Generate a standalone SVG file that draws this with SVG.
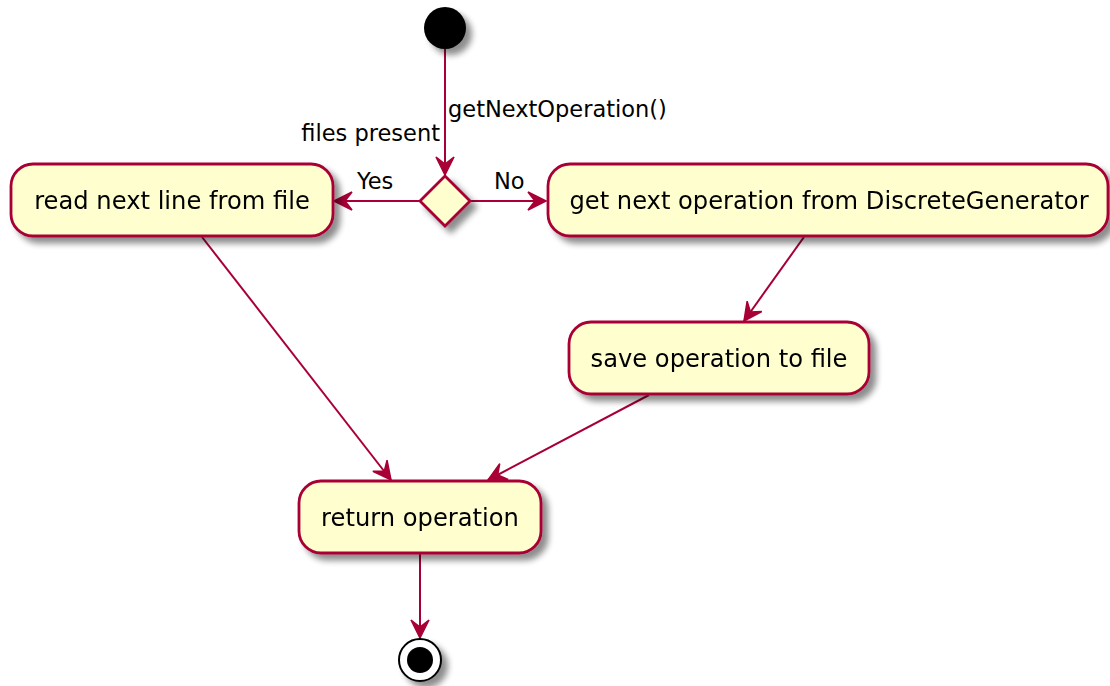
<svg xmlns="http://www.w3.org/2000/svg" width="1110" height="686" viewBox="0 0 1110 686">
<defs>
<filter id="sh" x="-20%" y="-20%" width="150%" height="170%">
<feGaussianBlur in="SourceAlpha" stdDeviation="3"/>
<feOffset dx="6" dy="6" result="b"/>
<feComponentTransfer><feFuncA type="linear" slope="0.45"/></feComponentTransfer>
<feMerge><feMergeNode/><feMergeNode in="SourceGraphic"/></feMerge>
</filter>
<marker id="ah" markerUnits="userSpaceOnUse" viewBox="-20 -10 22 20" refX="0" refY="0" markerWidth="22" markerHeight="20" orient="auto">
<path d="M0,0 L-18,-9 L-11,0 L-18,9 Z" fill="#A80036" stroke="#A80036" stroke-width="1.5" stroke-linejoin="miter"/>
</marker>
<style>
.act{fill:#FEFECE;stroke:#A80036;stroke-width:2.8}
.t{font-family:"DejaVu Sans","Liberation Sans",sans-serif;font-size:24.2px;fill:#000;text-anchor:middle}
.l{font-family:"DejaVu Sans","Liberation Sans",sans-serif;font-size:22.5px;fill:#000}
.e{fill:none;stroke:#A80036;stroke-width:2;marker-end:url(#ah)}
</style>
</defs>
<rect width="1110" height="686" fill="#fff"/>
<g id="connectors">
<path class="e" d="M445,49 L445,175"/>
<path class="e" d="M420,201 L334,201"/>
<path class="e" d="M471,201 L546,201"/>
<path class="e" d="M202,237 L391,480"/>
<path class="e" d="M804,237 L744,321"/>
<path class="e" d="M649,395 L488,480"/>
<path class="e" d="M420,553 L420,638"/>
<text class="l" x="448" y="117">getNextOperation()</text>
<text class="l" x="440" y="141" text-anchor="end">files present</text>
<text class="l" x="357" y="189">Yes</text>
<text class="l" x="494" y="189">No</text>
</g>
<g id="start" filter="url(#sh)">
<circle cx="445" cy="28" r="21" fill="#000"/>
</g>
<g id="decision" filter="url(#sh)">
<polygon class="act" points="445,176 470,201 445,226 420,201"/>
</g>
<g id="read" filter="url(#sh)">
<rect class="act" x="11" y="164" width="322" height="72" rx="22" ry="22"/>
<text class="t" x="172" y="209">read next line from file</text>
</g>
<g id="gen" filter="url(#sh)">
<rect class="act" x="548" y="164" width="560" height="72" rx="22" ry="22"/>
<text class="t" x="829" y="209">get next operation from DiscreteGenerator</text>
</g>
<g id="save" filter="url(#sh)">
<rect class="act" x="569" y="322" width="300" height="72" rx="22" ry="22"/>
<text class="t" x="719" y="367">save operation to file</text>
</g>
<g id="ret" filter="url(#sh)">
<rect class="act" x="299" y="481" width="242" height="72" rx="22" ry="22"/>
<text class="t" x="420" y="526">return operation</text>
</g>
<g id="end" filter="url(#sh)">
<circle cx="420" cy="660" r="21" fill="#fff" stroke="#000" stroke-width="2"/>
<circle cx="420" cy="660" r="13" fill="#000"/>
</g>
</svg>
